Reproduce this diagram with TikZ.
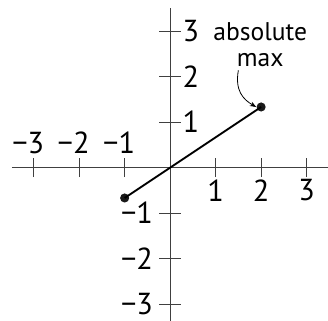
\documentclass[tikz,border=0pt]{standalone}
\usepackage{fontspec}
\setmainfont{PT Sans}
\usetikzlibrary{arrows.meta}
\begin{document}
\begin{tikzpicture}[
  axis/.style={draw=black!75, line width=0.6pt},
  tick/.style={draw=black!75, line width=0.6pt},
  lab/.style={font=\fontsize{19}{22}\selectfont, inner sep=0pt},
  seg/.style={line width=1.2pt},
  dot/.style={circle, fill=black!90, inner sep=0pt, minimum size=0.2cm},
  note/.style={font=\fontsize{16}{16}\selectfont, align=center, inner sep=0pt}
]
\useasboundingbox (-3.74,-3.37) rectangle (3.47,3.685);
\coordinate (xl) at (-3.48,0);
\coordinate (xr) at (3.6,0);
\coordinate (yb) at (0,-3.6);
\coordinate (yt) at (0,3.51);
\draw[axis] (xl) -- (xr);
\draw[axis] (yb) -- (yt);
\foreach \i in {1,2,3} {
  \draw[tick] (\i,-0.21) -- (\i,0.21);
  \draw[tick] (-\i,-0.21) -- (-\i,0.21);
  \draw[tick] (-0.24,\i) -- (0.24,\i);
  \draw[tick] (-0.24,-\i) -- (0.24,-\i);
  \node[lab] (xp\i) at (\i,-0.5) {\i};
  \node[lab] (xn\i) at (-\i-0.12,0.55) {−\i};
  \node[lab, anchor=west] (yp\i) at (0.27,\i) {\i};
  \node[lab, anchor=east] (yn\i) at (-0.37,-\i) {−\i};
}
\node[dot] (a) at (-1,-0.667) {};
\node[dot] (b) at (2,1.333) {};
\draw[seg] (a.center) -- (b.center);
\node[note] (n) at (1.98,2.70) {absolute\\max};
\draw[-{Stealth[length=4pt,width=3pt]}, line width=0.5pt] (1.5,2.14) .. controls (1.42,1.7) and (1.6,1.5) .. (b.west);
\end{tikzpicture}
\end{document}
